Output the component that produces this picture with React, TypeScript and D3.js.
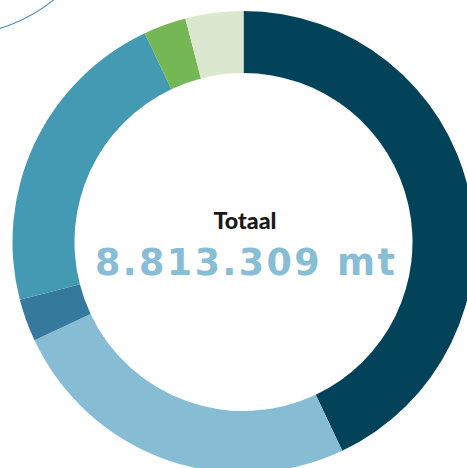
import React from "react";
import * as d3 from "d3";

const categories = ["Segment A", "Segment B", "Segment C", "Segment D", "Segment E", "Segment F"];
const values = [3787000, 2206000, 262000, 1939000, 262000, 357000];
const colors = ["#02435a", "#87bcd5", "#357a9c", "#449ab3", "#75b655", "#dbe7cf"];
const titleLabel = "Totaal";
const totalLabel = "8.813.309 mt";

const W = 467;
const H = 468;
const cx = 243.5;
const cy = 242;
const outerR = 231;
const innerR = 169;

export default function App() {
  const data = categories.map((c, i) => ({ c, v: values[i], color: colors[i] }));
  const pie = d3
    .pie<any>()
    .sort(null)
    .value((d: any) => d.v)
    .startAngle(0)
    .endAngle(2 * Math.PI);
  const arc = d3.arc<any>().innerRadius(innerR).outerRadius(outerR);
  const arcs = pie(data);
  return (
    <svg
      width={W}
      height={H}
      style={{ position: "absolute", left: 0, top: 0, background: "#fff" }}
    >
      <circle cx={-47.5} cy={-125.4} r={161} fill="none" stroke="#4a8fb3" strokeWidth={1.1} />
      <g transform={`translate(${cx},${cy})`}>
        {arcs.map((a, i) => (
          <path key={i} d={arc(a) as string} fill={a.data.color} />
        ))}
        <text
          x={1.5}
          y={-12.7}
          textAnchor="middle"
          fontFamily="Lato, 'Open Sans', sans-serif"
          fontWeight={900}
          fontSize={22}
          fill="#1a1a1a"
          textLength={63}
          lengthAdjust="spacingAndGlyphs"
        >
          {titleLabel}
        </text>
        <text
          x={1.5}
          y={33}
          textAnchor="middle"
          fontFamily="'DejaVu Sans', sans-serif"
          fontWeight={700}
          fontSize={36.5}
          fill="#88bdd6"
          textLength={300}
          lengthAdjust="spacing"
        >
          {totalLabel}
        </text>
      </g>
    </svg>
  );
}
